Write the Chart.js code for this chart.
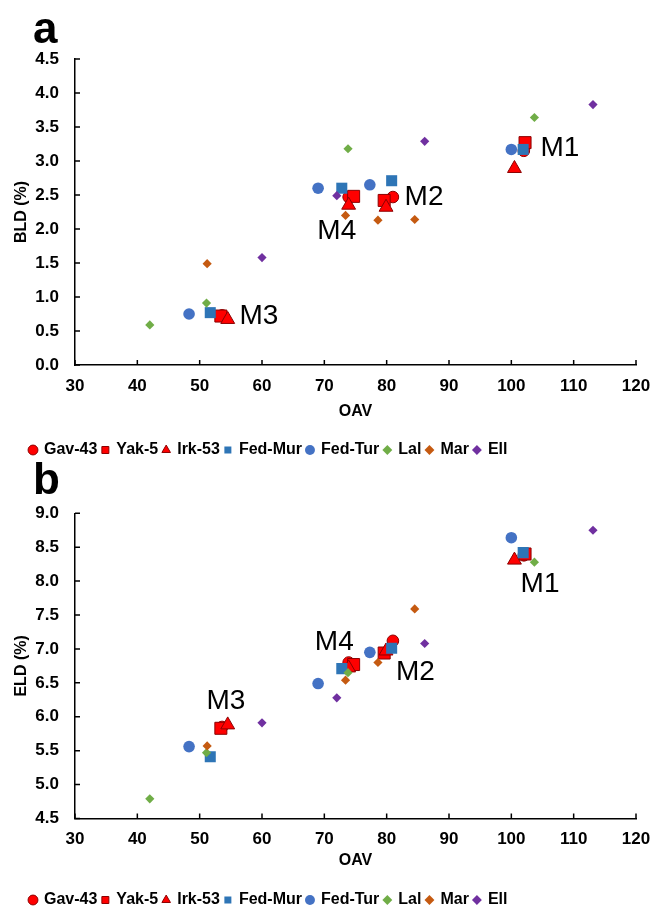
<!DOCTYPE html>
<html>
<head>
<meta charset="utf-8">
<script src="https://cdn.jsdelivr.net/npm/chart.js@4.4.0/dist/chart.umd.min.js"></script>
<style>
  body { margin: 0; background: #fff; width: 652px; height: 911px; overflow: hidden; position: relative;
         font-family: "Liberation Sans", Arial, sans-serif; }
  canvas { position: absolute; left: 0; }
  .panel_letter { position: absolute; left: 33px; font-weight: bold; font-size: 44px; line-height: 44px; color: #000; }
</style>
</head>
<body>
<canvas id="bld_chart" width="652" height="468" style="top:0px"></canvas>
<canvas id="eld_chart" width="652" height="450" style="top:468px"></canvas>
<div class="panel_letter" style="top:6px">a</div>
<div class="panel_letter" style="top:457px">b</div>

<script>
const series_names = ["Gav-43", "Yak-5", "Irk-53", "Fed-Mur", "Fed-Tur", "Lal", "Mar", "Ell"];

// OAV per series (same x for both panels)
const oav_gav43 = [102.0, 81.0, 53.6, 73.9];
const oav_yak5 = [102.2, 79.6, 53.4, 74.7];
const oav_irk53 = [100.5, 79.9, 54.5, 73.9];
const oav_fedmur = [101.9, 80.8, 51.7, 72.8];
const oav_fedtur = [100.0, 77.3, 48.3, 69.0];
const oav_lal = [103.7, 42.0, 51.1, 73.8];
const oav_mar = [84.5, 78.6, 51.2, 73.4];
const oav_ell = [113.1, 86.1, 60.0, 72.0];

// BLD (%)
const bld_gav43 = [3.15, 2.47, 0.73, 2.47];
const bld_yak5 = [3.27, 2.42, 0.72, 2.48];
const bld_irk53 = [2.89, 2.32, 0.67, 2.35];
const bld_fedmur = [3.17, 2.71, 0.77, 2.60];
const bld_fedtur = [3.17, 2.65, 0.75, 2.60];
const bld_lal = [3.64, 0.59, 0.91, 3.18];
const bld_mar = [2.14, 2.13, 1.49, 2.20];
const bld_ell = [3.83, 3.29, 1.58, 2.49];

// ELD (%)
const eld_gav43 = [8.38, 7.12, 5.85, 6.80];
const eld_yak5 = [8.40, 6.94, 5.83, 6.77];
const eld_irk53 = [8.31, 6.97, 5.88, 6.72];
const eld_fedmur = [8.42, 7.01, 5.41, 6.71];
const eld_fedtur = [8.64, 6.95, 5.56, 6.49];
const eld_lal = [8.28, 4.79, 5.47, 6.65];
const eld_mar = [7.59, 6.80, 5.57, 6.54];
const eld_ell = [8.75, 7.08, 5.91, 6.28];

const oav_all = [oav_gav43, oav_yak5, oav_irk53, oav_fedmur, oav_fedtur, oav_lal, oav_mar, oav_ell];
const bld_all = [bld_gav43, bld_yak5, bld_irk53, bld_fedmur, bld_fedtur, bld_lal, bld_mar, bld_ell];
const eld_all = [eld_gav43, eld_yak5, eld_irk53, eld_fedmur, eld_fedtur, eld_lal, eld_mar, eld_ell];

// sample tags and where they sit (in axis units)
const sample_names = ["M1", "M2", "M3", "M4"];
const bld_tag_oav = [107.8, 86.0, 59.5, 72.0];
const bld_tag_val = [3.19, 2.46, 0.72, 1.96];
const eld_tag_oav = [104.6, 84.6, 54.2, 71.6];
const eld_tag_val = [7.96, 6.65, 6.23, 7.10];

const series_fill = ["#FF0000", "#FF0000", "#FF0000", "#2E75B6", "#4472C4", "#70AD47", "#C55A11", "#7030A0"];
const series_edge = ["#8B0000", "#8B0000", "#8B0000", "#2E75B6", "#4472C4", "#70AD47", "#C55A11", "#7030A0"];
const series_edge_width = [1, 1, 1, 0, 0, 0, 0, 0];
const series_shape = ["circle", "rect", "triangle", "rect", "circle", "rectRot", "rectRot", "rectRot"];
const series_radius = [5.8, 8.5, 8, 7.8, 5.8, 4.6, 4.6, 4.6];

Chart.defaults.font.family = "'Liberation Sans', Arial, sans-serif";
Chart.defaults.color = "#000";

function build_datasets(values) {
    return series_names.map(function (name, i) {
        return {
            label: name,
            data: oav_all[i].map(function (x, k) { return {x: x, y: values[i][k]}; }),
            pointStyle: series_shape[i],
            pointRadius: series_radius[i],
            pointHoverRadius: series_radius[i],
            backgroundColor: series_fill[i],
            borderColor: series_edge[i],
            borderWidth: series_edge_width[i],
            order: -i   // later series painted on top
        };
    });
}

// short tick marks pointing into the plot
const inner_ticks = {
    id: "inner_ticks",
    beforeDatasetsDraw: function (chart) {
        let ctx = chart.ctx;
        let area = chart.chartArea;
        let xs = chart.scales.x;
        let ys = chart.scales.y;
        ctx.save();
        ctx.strokeStyle = "#000";
        ctx.lineWidth = 1.5;
        ctx.beginPath();
        xs.ticks.forEach(function (t) {
            let px = xs.getPixelForValue(t.value);
            ctx.moveTo(px, area.bottom);
            ctx.lineTo(px, area.bottom - 5);
        });
        ys.ticks.forEach(function (t) {
            let py = ys.getPixelForValue(t.value);
            ctx.moveTo(area.left, py);
            ctx.lineTo(area.left + 5, py);
        });
        ctx.stroke();
        ctx.restore();
    }
};

const sample_tags = {
    id: "sample_tags",
    afterDatasetsDraw: function (chart, args, opts) {
        let ctx = chart.ctx;
        ctx.save();
        ctx.font = "28px 'Liberation Sans', Arial, sans-serif";
        ctx.fillStyle = "#000";
        ctx.textAlign = "center";
        ctx.textBaseline = "middle";
        sample_names.forEach(function (name, i) {
            ctx.fillText(name, chart.scales.x.getPixelForValue(opts.xs[i]), chart.scales.y.getPixelForValue(opts.ys[i]));
        });
        ctx.restore();
    }
};

// push the legend row to the right a bit
const legend_offset = {
    id: "legend_offset",
    afterLayout: function (chart, args, opts) {
        chart.legend.left = opts.left;
    }
};

function make_panel(canvas_id, y_title, y_min, y_max, values, tag_x, tag_y, top_pad, x_height, title_pad) {
    return new Chart(canvas_id, {
        type: "scatter",
        data: { datasets: build_datasets(values) },
        plugins: [inner_ticks, sample_tags, legend_offset],
        options: {
            responsive: false,
            animation: false,
            layout: { padding: { left: 5, right: 16, top: top_pad, bottom: 0 } },
            scales: {
                x: {
                    type: "linear",
                    min: 30,
                    max: 120,
                    ticks: { stepSize: 10, padding: 11, font: { size: 17, weight: "bold" } },
                    grid: { display: false, drawTicks: false },
                    border: { color: "#000", width: 1.5 },
                    title: { display: true, text: "OAV", font: { size: 16, weight: "bold" }, padding: { top: 0, bottom: title_pad } },
                    afterFit: function (scale) {
                        scale.height = x_height;
                        scale.paddingLeft = 0;
                        scale.paddingRight = 0;
                    }
                },
                y: {
                    min: y_min,
                    max: y_max,
                    ticks: {
                        stepSize: 0.5,
                        padding: 16,
                        font: { size: 17, weight: "bold" },
                        callback: function (value) { return value.toFixed(1); }
                    },
                    grid: { display: false, drawTicks: false },
                    border: { color: "#000", width: 1.5 },
                    title: { display: true, text: y_title, font: { size: 16, weight: "bold" }, padding: { top: 7, bottom: 0 } },
                    afterFit: function (scale) { scale.width = 70; }
                }
            },
            plugins: {
                legend: {
                    position: "bottom",
                    align: "start",
                    labels: {
                        usePointStyle: true,
                        boxWidth: 6,
                        boxHeight: 7,
                        padding: 5,
                        color: "#000",
                        font: { size: 16, weight: "bold" },
                        sort: function (a, b) { return a.datasetIndex - b.datasetIndex; }
                    }
                },
                tooltip: { enabled: false },
                sample_tags: { xs: tag_x, ys: tag_y },
                legend_offset: { left: 25 }
            }
        }
    });
}

make_panel("bld_chart", "BLD (%)", 0, 4.5, bld_all, bld_tag_oav, bld_tag_val, 59, 72, 16);
make_panel("eld_chart", "ELD (%)", 4.5, 9, eld_all, eld_tag_oav, eld_tag_val, 45.3, 68.5, 16.5);
</script>
</body>
</html>
